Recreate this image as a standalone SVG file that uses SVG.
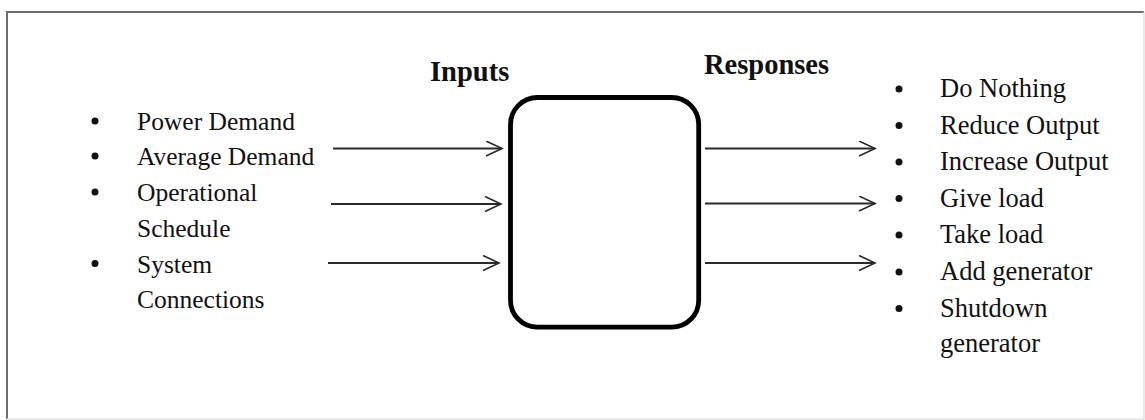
<svg xmlns="http://www.w3.org/2000/svg" width="1145" height="420" viewBox="0 0 1145 420">
<defs>
<marker id="arr" markerUnits="userSpaceOnUse" markerWidth="24" markerHeight="20" refX="17" refY="8" orient="auto">
<path d="M1,0.5 L17,8 L1,15.5" fill="none" stroke="#2a2a2a" stroke-width="1.6"/>
</marker>
</defs>
<style>
.t{font-family:"Liberation Serif","Times New Roman",serif;fill:#111;}
.l{font-size:25.5px;}
.r{font-size:26.5px;}
.h{font-size:28.5px;font-weight:bold;}
.b{fill:#111;}
.c{stroke:#2a2a2a;stroke-width:1.8;fill:none;marker-end:url(#arr);}
</style>
<rect x="0" y="0" width="1145" height="420" fill="#fff"/>
<g id="frame">
<path d="M7,419 L7,12 L1144,12" fill="none" stroke="#6e6e6e" stroke-width="2"/>
<path d="M1144,12 L1144,419 L7,419" fill="none" stroke="#e4e4e4" stroke-width="1.5"/>
</g>
<g id="inputs-title"><text class="t h" x="430" y="81">Inputs</text></g>
<g id="responses-title"><text class="t h" x="704" y="73.5">Responses</text></g>
<g id="controller"><rect x="510.5" y="97.5" width="188.2" height="229.7" rx="27" ry="27" fill="#fff" stroke="#000" stroke-width="4.8"/></g>
<g id="input-list">
<circle class="b" cx="95" cy="121" r="3.5"/><text class="t l" x="137" y="130">Power Demand</text>
<circle class="b" cx="95" cy="156" r="3.5"/><text class="t l" x="137" y="165">Average Demand</text>
<circle class="b" cx="95" cy="192" r="3.5"/><text class="t l" x="137" y="201">Operational</text>
<text class="t l" x="137" y="236.5">Schedule</text>
<circle class="b" cx="95" cy="263.5" r="3.5"/><text class="t l" x="137" y="272.5">System</text>
<text class="t l" x="137" y="308">Connections</text>
</g>
<g id="response-list">
<circle class="b" cx="899" cy="89" r="3.5"/><text class="t r" x="940" y="97">Do Nothing</text>
<circle class="b" cx="899" cy="125.5" r="3.5"/><text class="t r" x="940" y="133.5">Reduce Output</text>
<circle class="b" cx="899" cy="162" r="3.5"/><text class="t r" x="940" y="170">Increase Output</text>
<circle class="b" cx="899" cy="198.5" r="3.5"/><text class="t r" x="940" y="206.5">Give load</text>
<circle class="b" cx="899" cy="235" r="3.5"/><text class="t r" x="940" y="243">Take load</text>
<circle class="b" cx="899" cy="272" r="3.5"/><text class="t r" x="940" y="280">Add generator</text>
<circle class="b" cx="899" cy="308.5" r="3.5"/><text class="t r" x="940" y="316.5">Shutdown</text>
<text class="t r" x="940" y="352">generator</text>
</g>
<g id="connectors">
<line class="c" x1="333" y1="148.5" x2="502" y2="148.5"/>
<line class="c" x1="331" y1="204" x2="501" y2="204"/>
<line class="c" x1="328" y1="263" x2="499" y2="263"/>
<line class="c" x1="705" y1="148.5" x2="875" y2="148.5"/>
<line class="c" x1="705" y1="203.5" x2="875" y2="203.5"/>
<line class="c" x1="705" y1="263" x2="875" y2="263"/>
</g>
</svg>
